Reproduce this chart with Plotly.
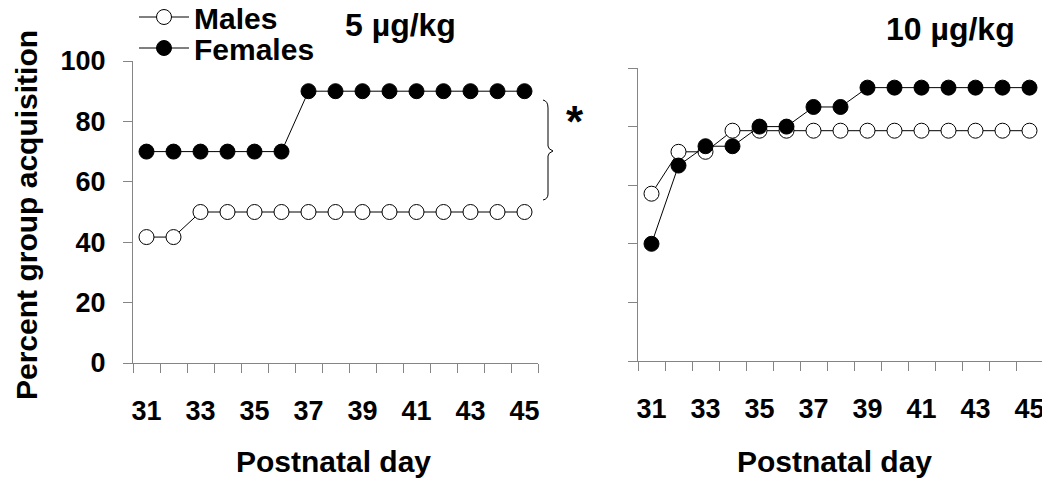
import plotly.graph_objects as go

W, H = 1050, 489
OFF = 8  # page body margin in the browser

days = [31, 32, 33, 34, 35, 36, 37, 38, 39, 40, 41, 42, 43, 44, 45]
tick_days = [31, 33, 35, 37, 39, 41, 43, 45]
tick_marks = [30.5, 31.5, 32.5, 33.5, 34.5, 35.5, 36.5, 37.5, 38.5, 39.5, 40.5, 41.5, 42.5, 43.5, 44.5, 45.5]
y_ticks = [0, 20, 40, 60, 80, 100]

males_5 = [41.7, 41.7, 50, 50, 50, 50, 50, 50, 50, 50, 50, 50, 50, 50, 50]
females_5 = [70, 70, 70, 70, 70, 70, 90, 90, 90, 90, 90, 90, 90, 90, 90]
males_10 = [57.1, 71.4, 71.4, 78.6, 78.6, 78.6, 78.6, 78.6, 78.6, 78.6, 78.6, 78.6, 78.6, 78.6, 78.6]
females_10 = [40, 66.7, 73.3, 73.3, 80, 80, 86.7, 86.7, 93.3, 93.3, 93.3, 93.3, 93.3, 93.3, 93.3]


def px(x):
    return (x - OFF) / W


def py(y):
    return 1 - (y - OFF) / H


FONT = "Arial, Liberation Sans, sans-serif"
AX = "#858585"

fig = go.Figure()

def add_pair(m, f, xa, ya, show):
    fig.add_trace(go.Scatter(
        x=days, y=m, mode="lines+markers", name="Males", xaxis=xa, yaxis=ya,
        line=dict(color="black", width=1),
        marker=dict(size=15, color="white", line=dict(color="black", width=1)),
        showlegend=show, legend="legend"))
    fig.add_trace(go.Scatter(
        x=days, y=f, mode="lines+markers", name="Females", xaxis=xa, yaxis=ya,
        line=dict(color="black", width=1),
        marker=dict(size=15, color="black", line=dict(color="black", width=1)),
        showlegend=show, legend="legend2"))

add_pair(males_5, females_5, "x", "y", True)
add_pair(males_10, females_10, "x2", "y2", False)

xcommon = dict(
    range=[30.5, 45.5], tickmode="array", tickvals=tick_days,
    ticktext=[str(d) for d in tick_days], ticks="", automargin=False,
    showline=True, linecolor=AX, linewidth=1, showgrid=False, zeroline=False,
    tickfont=dict(family=FONT, size=27, color="black", weight="bold"),
    ticklabelstandoff=24,
    minor=dict(tickmode="array", tickvals=tick_marks, ticks="outside",
               ticklen=9, tickcolor=AX, tickwidth=1, showgrid=False),
)
ycommon = dict(
    range=[0, 100], tickmode="array", tickvals=y_ticks, ticks="outside",
    ticklen=9, tickcolor=AX, tickwidth=1, automargin=False,
    showline=True, linecolor=AX, linewidth=1, showgrid=False, zeroline=False,
    tickfont=dict(family=FONT, size=27, color="black", weight="bold"),
)

leg_common = dict(xanchor="left", yanchor="middle", bgcolor="rgba(0,0,0,0)",
                  itemwidth=50, borderwidth=0,
                  font=dict(family=FONT, size=30, color="black", weight="bold"))

fig.update_layout(
    width=W, height=H, autosize=False,
    margin=dict(l=0, r=0, t=0, b=0, pad=0, autoexpand=False),
    paper_bgcolor="white", plot_bgcolor="white",
    xaxis=dict(domain=[px(133), px(538)], anchor="y", **xcommon),
    yaxis=dict(domain=[py(363), py(61)], anchor="x", ticklabelstandoff=12, **ycommon),
    xaxis2=dict(domain=[px(638), px(1043)], anchor="y2", **xcommon),
    yaxis2=dict(domain=[py(361), py(68)], anchor="x2", showticklabels=False, **ycommon),
    legend=dict(x=px(134), y=py(17), **leg_common),
    legend2=dict(x=px(134), y=py(48), **leg_common),
    showlegend=True,
)

def label(text, x, y, size=30, angle=0):
    fig.add_annotation(text=text, x=px(x), y=py(y), xref="paper", yref="paper",
                       xanchor="center", yanchor="middle", showarrow=False,
                       textangle=angle,
                       font=dict(family=FONT, size=size, color="black", weight="bold"))

label("5 µg/kg", 400, 25, size=32)
label("10 µg/kg", 950, 29, size=32)
label("Postnatal day", 333, 461)
label("Postnatal day", 834, 461)
label("Percent group acquisition", 26, 215, angle=-90)
label("*", 575, 121, size=44)

# curly brace
pts = [(543, 100), (548, 101), (548, 108), (548, 146), (548, 149), (553, 151),
       (548, 153), (548, 156), (548, 194), (548, 199), (543, 200)]
p = lambda a: f"{px(a[0]):.5f},{py(a[1]):.5f}"
path = (f"M {p(pts[0])} Q {p(pts[1])} {p(pts[2])} L {p(pts[3])} Q {p(pts[4])} {p(pts[5])} "
        f"Q {p(pts[6])} {p(pts[7])} L {p(pts[8])} Q {p(pts[9])} {p(pts[10])}")
fig.add_shape(type="path", path=path, xref="paper", yref="paper",
              line=dict(color="black", width=1))

fig.write_html("out.html")
